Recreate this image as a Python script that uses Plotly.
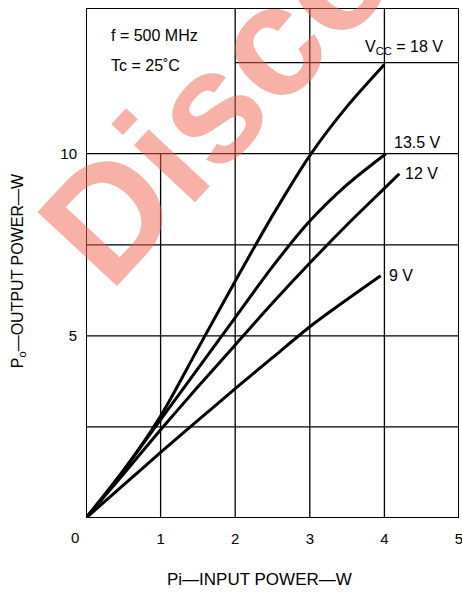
import plotly.graph_objects as go

# ---- data ----
pin_18 = [0, 0.5, 1.0, 1.5, 2.0, 2.5, 3.0, 3.5, 4.0]
po_18 = [0, 1.3, 2.8, 4.65, 6.5, 8.3, 9.95, 11.3, 12.45]

pin_135 = [0, 0.5, 1.0, 1.5, 2.0, 2.5, 3.0, 3.5, 4.02]
po_135 = [0, 1.3, 2.7, 4.1, 5.5, 6.9, 8.15, 9.15, 10.0]

pin_12 = [0, 0.5, 1.0, 1.5, 2.0, 2.5, 3.0, 3.5, 4.0, 4.2]
po_12 = [0, 1.2, 2.42, 3.6, 4.75, 5.9, 7.0, 8.05, 9.05, 9.45]

pin_9 = [0, 0.5, 1.0, 1.5, 2.0, 2.5, 3.0, 3.5, 3.95]
po_9 = [0, 0.9, 1.8, 2.68, 3.55, 4.4, 5.25, 6.0, 6.65]

series_labels = ["V<sub>CC</sub> = 18 V", "13.5 V", "12 V", "9 V"]

x_ticks = [1, 2, 3, 4, 5]
x_ticktext = ["1", "2", "3", "4", "5"]
y_ticks = [5, 10]
y_ticktext = ["5", "10"]
x_grid = [1, 2, 3, 4]
y_grid = [2.5, 5, 7.5, 10, 12.5]
x_range = [0, 5]
y_range = [0, 14]
# blank label box in the upper-left (no grid inside)
box_x = 2
box_y = 10

FONT = "Liberation Sans, Arial, Helvetica, sans-serif"

fig = go.Figure()

curves = [(pin_18, po_18), (pin_135, po_135), (pin_12, po_12), (pin_9, po_9)]
for xs, ys in curves:
    fig.add_trace(go.Scatter(x=xs, y=ys, mode="lines",
                             line=dict(color="black", width=3, shape="spline", smoothing=0.8),
                             hoverinfo="skip", showlegend=False))

shapes = []
gl = dict(color="black", width=1.3)
for gx in x_grid:
    y1 = box_y if gx < box_x else y_range[1]
    shapes.append(dict(type="line", xref="x", yref="y", x0=gx, x1=gx, y0=0, y1=y1,
                       line=gl, layer="below"))
for gy in y_grid:
    x0 = box_x if gy > box_y else 0
    shapes.append(dict(type="line", xref="x", yref="y", x0=x0, x1=x_range[1], y0=gy, y1=gy,
                       line=gl, layer="below"))
shapes.append(dict(type="rect", xref="x", yref="y", x0=x_range[0], x1=x_range[1],
                   y0=y_range[0], y1=y_range[1], line=dict(color="black", width=2),
                   fillcolor="rgba(0,0,0,0)", layer="above"))

annotations = []
# curve labels
label_shift = [(-21, 17), (6, 11), (4, 0), (6, 0)]
for (xs, ys), lab, (dx, dy) in zip(curves, series_labels, label_shift):
    annotations.append(dict(x=xs[-1], y=ys[-1], xref="x", yref="y", text=lab,
                            showarrow=False, xanchor="left", yanchor="middle",
                            xshift=dx, yshift=dy,
                            font=dict(family=FONT, size=16, color="black")))
# condition text
annotations.append(dict(x=0.062, y=0.946, xref="paper", yref="paper", text="f = 500 MHz",
                        showarrow=False, xanchor="left", yanchor="middle",
                        font=dict(family=FONT, size=16, color="black")))
annotations.append(dict(x=0.062, y=0.888, xref="paper", yref="paper", text="Tc = 25˚C",
                        showarrow=False, xanchor="left", yanchor="middle",
                        font=dict(family=FONT, size=16, color="black")))
# origin label
annotations.append(dict(x=0, y=0, xref="x", yref="y", text="0", showarrow=False,
                        xanchor="center", yanchor="middle", xshift=-11, yshift=-19,
                        font=dict(family=FONT, size=15, color="black")))
# axis titles
annotations.append(dict(x=0.466, y=-0.12, xref="paper", yref="paper",
                        text="Pi—INPUT POWER—W", showarrow=False,
                        xanchor="center", yanchor="middle",
                        font=dict(family=FONT, size=17, color="black")))
annotations.append(dict(x=-0.182, y=0.484, xref="paper", yref="paper",
                        text="P<sub>o</sub>—OUTPUT POWER—W", showarrow=False, textangle=-90,
                        xanchor="center", yanchor="middle",
                        font=dict(family=FONT, size=16, color="black")))
# watermark
annotations.append(dict(x=0.3485, y=0.822, xref="paper", yref="paper", text="Disco",
                        showarrow=False, textangle=-47, xanchor="center", yanchor="middle",
                        font=dict(family=FONT, size=158, color="rgba(240,100,80,0.5)",
                                  weight=700)))

fig.update_layout(
    width=462, height=596,
    margin=dict(l=86, r=3, t=8, b=78, autoexpand=False),
    paper_bgcolor="white", plot_bgcolor="white",
    shapes=shapes, annotations=annotations,
    xaxis=dict(range=x_range, tickvals=x_ticks, ticktext=x_ticktext, showgrid=False,
               zeroline=False, showline=False, ticks="", ticklabelstandoff=10,
               ticklabeloverflow="allow", automargin=False,
               tickfont=dict(family=FONT, size=15, color="black"), fixedrange=True),
    yaxis=dict(range=y_range, tickvals=y_ticks, ticktext=y_ticktext, showgrid=False,
               zeroline=False, showline=False, ticks="", ticklabelstandoff=8,
               automargin=False,
               tickfont=dict(family=FONT, size=15, color="black"), fixedrange=True),
)

fig.write_html("out.html", config={"displayModeBar": False})
